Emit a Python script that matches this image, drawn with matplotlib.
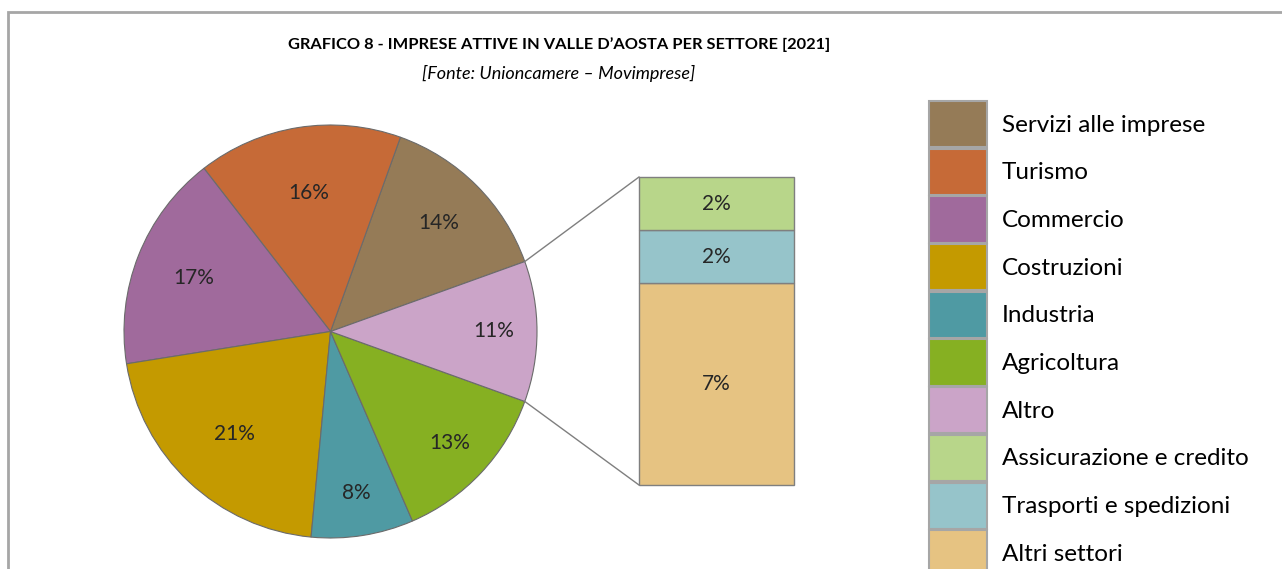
import numpy as np
import matplotlib.pyplot as plt
from matplotlib.patches import Rectangle

plt.rcParams['font.family'] = ['Lato', 'DejaVu Sans']

# dati: torta principale (in ordine antiorario a partire da "Servizi alle imprese")
settori = ['Servizi alle imprese', 'Turismo', 'Commercio', 'Costruzioni',
           'Industria', 'Agricoltura', 'Altro']
quote = [14, 16, 17, 21, 8, 13, 11]
colori = ['#957B57', '#C66A37', '#A06A9C', '#C49A00', '#4F9AA3', '#86B022', '#CBA4C8']
# distanza delle etichette dal centro (frazione del raggio)
dist_etichette = [0.74, 0.68, 0.71, 0.68, 0.79, 0.79, 0.79]

# dettaglio della fetta "Altro" (dall'alto verso il basso)
altro_settori = ['Assicurazione e credito', 'Trasporti e spedizioni', 'Altri settori']
altro_quote = [1.9, 1.9, 7.2]
altro_etichette = ['2%', '2%', '7%']
altro_colori = ['#B8D68A', '#96C4CA', '#E6C382']

W, H = 1282, 569
fig = plt.figure(figsize=(W / 100, H / 100), dpi=100)
ax = fig.add_axes([0, 0, 1, 1])

# cornice grigia
fig.patches.append(Rectangle((8 / W, -0.1), 1.2, 1.1 - 12 / H, transform=fig.transFigure,
                             fill=False, edgecolor='#A6A6A6', linewidth=2))

centro = (330.5, H - 331.5)
raggio = 206.5
start = quote[-1] / 100 * 360 / 2
wedges, testi, pct = ax.pie(quote, colors=colori, center=centro, radius=raggio,
                            startangle=start, counterclock=True,
                            autopct='%1.0f%%', pctdistance=0.74,
                            wedgeprops=dict(edgecolor='#6B6B6B', linewidth=0.8),
                            textprops=dict(fontsize=15, color='#262626'),
                            frame=True)
for w, t, d in zip(wedges, pct, dist_etichette):
    a = np.radians((w.theta1 + w.theta2) / 2)
    t.set_position((centro[0] + d * raggio * np.cos(a), centro[1] + d * raggio * np.sin(a)))

ax.set_xlim(0, W)
ax.set_ylim(0, H)
ax.set_aspect('equal')
ax.axis('off')

# barra della scomposizione
bar_x = 716.5
bar_w = 155
scala = 308 / sum(altro_quote)
base = H - 485
basso = base
barre = []
for lab, v, c, et in zip(altro_settori[::-1], altro_quote[::-1], altro_colori[::-1],
                         altro_etichette[::-1]):
    b = ax.bar(bar_x, v * scala, width=bar_w, bottom=basso, color=c,
               edgecolor='#7F7F7F', linewidth=1)
    ax.text(bar_x, basso + v * scala / 2, et, ha='center', va='center',
            fontsize=15, color='#262626')
    barre.append(b[0])
    basso += v * scala
barre = barre[::-1]

# linee di collegamento
w_altro = wedges[-1]
for ang, y_bar in [(w_altro.theta2, basso), (w_altro.theta1, base)]:
    xp = centro[0] + raggio * np.cos(np.radians(ang))
    yp = centro[1] + raggio * np.sin(np.radians(ang))
    ax.plot([xp, bar_x - bar_w / 2], [yp, y_bar], color='#7F7F7F', linewidth=1)

# titolo
fig.text(559 / W, 1 - 45 / H, 'GRAFICO 8 - IMPRESE ATTIVE IN VALLE D’AOSTA PER SETTORE [2021]',
         ha='center', va='center', fontsize=11.8, fontweight='bold', color='#000000')
fig.text(559 / W, 1 - 73 / H, '[Fonte: Unioncamere – Movimprese]',
         ha='center', va='center', fontsize=13, style='italic', color='#000000')

# legenda
handles = list(wedges) + barre
labels = settori + altro_settori
leg = fig.legend(handles, labels, loc='upper left', bbox_to_anchor=(929 / W, 1 - 101 / H),
                 frameon=False, fontsize=17.5, handlelength=2.4, handleheight=2.55,
                 labelspacing=0.06, handletextpad=0.6, borderpad=0, borderaxespad=0)
for h in leg.legend_handles:
    h.set_edgecolor('#A6A6A6')
    h.set_linewidth(1.5)

fig.savefig('out.png', dpi=100)
